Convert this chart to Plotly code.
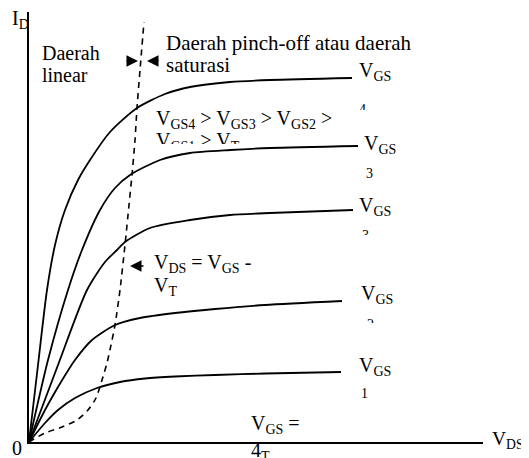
import plotly.graph_objects as go

# page is 529x458; the browser body has an 8px margin, so the figure is
# drawn 8px in from the top-left corner and is sized to fill the rest.
PAGE_W, PAGE_H = 529, 458
OFF = 8
FW, FH = PAGE_W - OFF, PAGE_H - OFF
FONT = "Liberation Serif"

# ---- data (V_DS along x, I_D along y, chart units) ----
vds_vgs4 = [0, 9, 18, 26, 36, 49, 61, 81, 108, 136, 161, 201, 241, 323]
id_vgs4 = [0, 77, 152, 197, 232, 262, 282, 310, 334, 348, 355, 360, 362, 364]

vds_vgs3 = [0, 19, 39, 53, 71, 86, 101, 131, 161, 201, 241, 329]
id_vgs3 = [0, 82, 152, 192, 232, 254, 267, 282, 289, 292, 294, 296]

vds_vgs3b = [0, 29, 58, 76, 88, 96, 121, 161, 201, 241, 324]
id_vgs3b = [0, 77, 152, 180, 192, 200, 214, 222, 227, 229, 232]

vds_vgs2 = [0, 16, 29, 46, 63, 86, 111, 146, 186, 236, 313]
id_vgs2 = [0, 32, 55, 82, 102, 117, 124, 129, 133, 137, 141]

vds_vgs1 = [0, 16, 29, 46, 68, 91, 116, 146, 186, 236, 312]
id_vgs1 = [0, 19, 32, 44, 54, 60, 63.5, 65.5, 67, 68.5, 70]

vds_pinch = [0, 16, 33, 48, 59, 67, 73, 78, 82, 86, 91, 96, 100, 103, 106, 108, 111, 115]
id_pinch = [0, 9, 15, 22, 32, 44, 62, 79, 97, 117, 152, 197, 237, 267, 302, 334, 372, 420]

curves = [(vds_vgs4, id_vgs4), (vds_vgs3, id_vgs3), (vds_vgs3b, id_vgs3b),
          (vds_vgs2, id_vgs2), (vds_vgs1, id_vgs1)]

# plot area in page pixels
PX0, PX1, PY0, PY1 = 29, 483, 12, 442


def fx(px):
    return (px - OFF) / FW


def fy(py):
    return (PAGE_H - py) / FH


fig = go.Figure()
for xs, ys in curves:
    fig.add_trace(go.Scatter(x=xs, y=ys, mode="lines",
                             line=dict(color="black", width=1.8, shape="spline", smoothing=0.7),
                             hoverinfo="skip", showlegend=False, cliponaxis=False))
fig.add_trace(go.Scatter(x=vds_pinch, y=id_pinch, mode="lines",
                         line=dict(color="black", width=1.6, dash="6px,5px", shape="spline", smoothing=0.7),
                         hoverinfo="skip", showlegend=False, cliponaxis=False))

layout = dict(
    width=FW, height=FH, autosize=False,
    margin=dict(l=0, r=0, t=0, b=0, pad=0),
    paper_bgcolor="white", plot_bgcolor="rgba(0,0,0,0)",
    showlegend=False,
    xaxis=dict(domain=[fx(PX0), fx(PX1)], range=[0, PX1 - PX0], showgrid=False, zeroline=False,
               showticklabels=False, ticks="", showline=True, linecolor="black", linewidth=2.2,
               fixedrange=True),
    yaxis=dict(domain=[fy(PY1), fy(PY0)], range=[0, PY1 - PY0], showgrid=False,
               zeroline=False, showticklabels=False, ticks="", showline=True, linecolor="black",
               linewidth=2.2, fixedrange=True),
    xaxis2=dict(domain=[0, 1], range=[OFF, PAGE_W], visible=False, anchor="y2", fixedrange=True),
    yaxis2=dict(domain=[0, 1], range=[PAGE_H, OFF], visible=False, anchor="x2", fixedrange=True),
)

axis_count = [2]


def add_text(s, x, base, size=20, clip=None):
    """Place text with its left edge at page pixel x and its baseline at page pixel base."""
    if clip is None:
        xa, ya = "x2", "y2"
        cl = False
    else:
        axis_count[0] += 1
        n = axis_count[0]
        cx0, cy0, cx1, cy1 = clip
        layout["xaxis%d" % n] = dict(domain=[fx(cx0), fx(cx1)], range=[cx0, cx1], visible=False,
                                     anchor="y%d" % n, fixedrange=True)
        layout["yaxis%d" % n] = dict(domain=[fy(cy1), fy(cy0)], range=[cy1, cy0],
                                     visible=False, anchor="x%d" % n, fixedrange=True)
        xa, ya = "x%d" % n, "y%d" % n
        cl = True
    fig.add_trace(go.Scatter(x=[x], y=[base - 0.25 * size], mode="text", text=[s],
                             textposition="middle right", marker=dict(size=0),
                             textfont=dict(family=FONT, size=size, color="black"),
                             xaxis=xa, yaxis=ya, cliponaxis=cl, hoverinfo="skip",
                             showlegend=False))


add_text("I<sub>D</sub>", 12, 25)
add_text("Daerah", 42, 60)
add_text("linear", 42, 82)
add_text("Daerah pinch-off atau daerah", 166, 50, size=21)
add_text("saturasi", 166, 72, size=21)
add_text("V<sub>GS4</sub> > V<sub>GS3</sub> > V<sub>GS2</sub> >", 156, 125)
add_text("V<sub>GS1</sub> > V<sub>T</sub>", 156, 147, clip=(150, 126, 320, 144))

add_text("V<sub>GS</sub>", 359, 77)
add_text("4", 359, 114, size=14, clip=(350, 95, 380, 110))
add_text("V<sub>GS</sub>", 364, 150)
add_text("3", 366, 178, size=14)
add_text("V<sub>GS</sub>", 359, 212)
add_text("3", 362, 240, size=14, clip=(350, 222, 380, 235))
add_text("V<sub>GS</sub>", 361, 300)
add_text("2", 367, 329, size=14, clip=(355, 310, 385, 323))
add_text("V<sub>GS</sub>", 359, 372)
add_text("1", 361, 398, size=14)

add_text("V<sub>DS</sub> = V<sub>GS</sub> -", 154, 269)
add_text("V<sub>T</sub>", 154, 292)
add_text("V<sub>GS</sub> =", 251, 430)
add_text("4<sub>T</sub>", 251, 457)
add_text("0", 12, 455)
add_text("V<sub>DS</sub>", 492, 445, size=19.5)

# arrows (tips given in chart units of the main axes)
arrows = [(138 - PX0, PY1 - 61, -13), (147 - PX0, PY1 - 61, 13), (130 - PX0, PY1 - 266, 15)]
anns = []
for ax_x, ax_y, off in arrows:
    anns.append(dict(x=ax_x, y=ax_y, xref="x", yref="y", text="", showarrow=True,
                     ax=off, ay=0, arrowhead=2, arrowsize=1.35, arrowwidth=1.7,
                     arrowcolor="black", standoff=0, startstandoff=0))
layout["annotations"] = anns

fig.update_layout(**layout)
fig.write_html("out.html", config={"staticPlot": True})
